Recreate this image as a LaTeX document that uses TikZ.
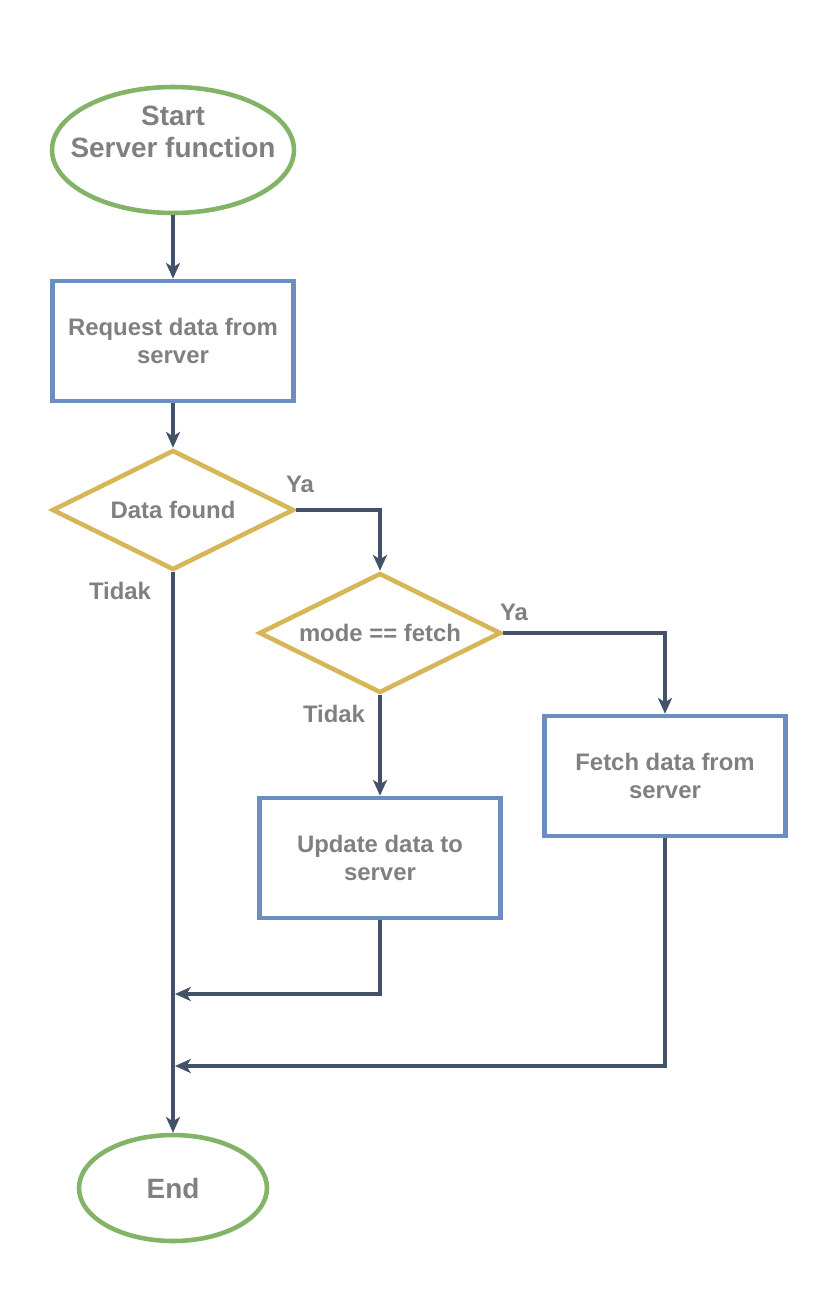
\documentclass[tikz,border=0pt]{standalone}
\usepackage{fontspec}
\setmainfont{Liberation Sans}
\usepackage{xcolor}
\usetikzlibrary{arrows, arrows.meta}
\usetikzlibrary{shapes.geometric}

\definecolor{termgreen}{HTML}{82B366}
\definecolor{procblue}{HTML}{6C8EBF}
\definecolor{decyellow}{HTML}{D6B656}
\definecolor{flowline}{HTML}{435269}
\definecolor{labelgray}{HTML}{808080}

\begin{document}
\begin{tikzpicture}[x=0.02cm, y=-0.02cm,
    every node/.style={font=\bfseries\fontsize{13.6}{16}\selectfont, text=labelgray, align=center},
    term/.style={ellipse, draw=termgreen, line width=2.6pt, inner sep=0pt},
    proc/.style={rectangle, draw=procblue, line width=2.6pt, minimum width=4.82cm, minimum height=2.4cm},
    dec/.style={diamond, aspect=2, inner sep=0pt, draw=decyellow, line width=2.6pt, minimum width=4.84cm, minimum height=2.4cm},
    flow/.style={draw=flowline, line width=2pt, -{Stealth[length=9pt, width=8pt, inset=2.5pt]}}]
    \useasboundingbox (0,0) rectangle (838,1292);

    \node[term, inner xsep=-12pt, text depth=21pt, minimum width=4.84cm, minimum height=2.52cm, font=\bfseries\fontsize{15.9}{18.2}\selectfont] (start) at (173,150) {Start\\Server function};
    \node[proc] (request) at (173,341) {Request data from\\server};
    \node[dec] (found) at (173,510) {Data found};
    \node[dec] (mode) at (380,633) {mode == fetch};
    \node[proc] (update) at (380,858) {Update data to\\server};
    \node[proc] (fetch) at (665,776) {Fetch data from\\server};
    \node[term, minimum width=3.76cm, minimum height=2.12cm, font=\bfseries\fontsize{15.9}{18.2}\selectfont] (end) at (173,1188) {End};

    \node (ya1) at (300,484) {Ya};
    \node (tidak1) at (120,591) {Tidak};
    \node (ya2) at (514,612) {Ya};
    \node (tidak2) at (334,714) {Tidak};

    \coordinate (join1) at (175,994);
    \coordinate (join2) at (175,1066);

    \draw[flow] (start) -- (request);
    \draw[flow] (request) -- (found);
    \draw[flow] (found.east) -| (mode.north);
    \draw[flow] (found.south) -- (end.north);
    \draw[flow] (mode.east) -| (fetch.north);
    \draw[flow] (mode.south) -- (update.north);
    \draw[flow] (update.south) |- (join1);
    \draw[flow] (fetch.south) |- (join2);
  \end{tikzpicture}
\end{document}
